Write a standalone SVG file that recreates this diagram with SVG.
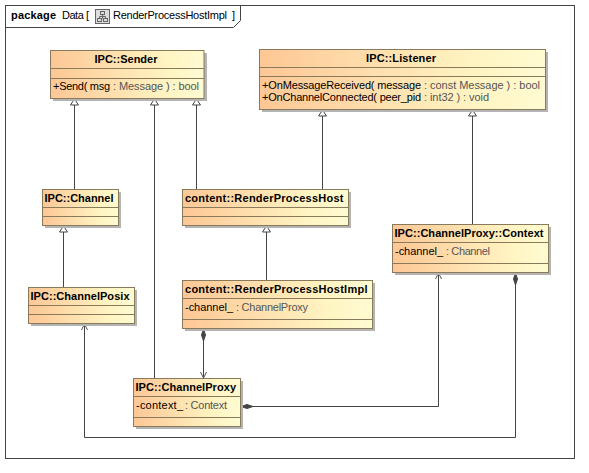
<svg xmlns="http://www.w3.org/2000/svg" width="589" height="473" viewBox="0 0 589 473">
<style>
text{font-family:"Liberation Sans",Arial,sans-serif;font-size:11px;fill:#000}
.t{font-weight:bold}
.g{fill:#555}
.b{fill:url(#f);stroke:#8a7a5c;stroke-width:1}
.s{fill:#b4b4b4}
.l{stroke:#8a7a5c;stroke-width:1;fill:none}
.c{fill:none;stroke:#444;stroke-width:1}
.ih{fill:#fff;stroke:#444;stroke-width:1}
.d{fill:#444;stroke:#444;stroke-width:1}
.o{fill:none;stroke:#555;stroke-width:1}
</style>
<defs>
<linearGradient id="f" x1="0" y1="0" x2="1" y2="0"><stop offset="0" stop-color="#fdc795"/><stop offset="0.75" stop-color="#fff4c2"/><stop offset="1" stop-color="#fffbd2"/></linearGradient>
</defs>
<rect width="589" height="473" fill="#fff"/>
<g id="frame">
<rect x="5.500" y="5.500" width="569" height="453" fill="none" stroke="#444"/>
<path d="M5.500 27.500H233.500L240.500 20.500V5.500" fill="none" stroke="#444"/>
<text x="11" y="18.500" class="t" textLength="45">package</text>
<text x="62" y="18.500" textLength="27">Data [</text>
<g fill="none" stroke="#666"><rect x="95.500" y="9.500" width="14" height="14" fill="#ddd"/><rect x="100.500" y="11.500" width="4" height="3"/><rect x="97.500" y="18.500" width="4" height="3"/><rect x="103.500" y="18.500" width="4" height="3"/><path d="M102.500 14.500V18.500M99.500 18.500V16.500H105.500V18.500"/></g>
<text x="113" y="18.500" textLength="114">RenderProcessHostImpl</text>
<text x="232" y="18.500">]</text>
</g>
<g id="connectors">
<path class="c" d="M74.500 189V105M154.500 378V105M196.500 189V105M322.500 189V116M472.500 224V116M63.500 287V232M266.500 280V232M203.500 341V378M253 406.500H438.500V273M515.500 285V437.500H84.500V324"/>
<path class="ih" d="M74.500 99L70.500 105H78.500ZM154.500 99L150.500 105H158.500ZM196.500 99L192.500 105H200.500ZM322.500 110L318.500 116H326.500ZM472.500 110L468.500 116H476.500ZM63.500 226L59.500 232H67.500ZM266.500 226L262.500 232H270.500Z"/>
<path class="d" d="M203.500 329L201.500 335L203.500 341L205.500 335ZM241 406.500L247 404.500L253 406.500L247 408.500ZM515.500 273L513.500 279L515.500 285L517.500 279Z"/>
<path class="o" d="M200.500 372L203.500 378L206.500 372M435.500 279L438.500 273L441.500 279M81.500 330L84.500 324L87.500 330"/>
</g>
<g id="sender">
<rect class="s" x="53" y="53" width="154" height="48"/><rect class="b" x="50.500" y="50.500" width="153.500" height="48"/>
<path class="l" d="M50.500 68.500H204M50.500 78.500H204"/>
<text x="94.500" y="63" class="t" textLength="63">IPC::Sender</text>
<text x="53" y="90" textLength="57">+Send( msg</text>
<text x="113" y="90" class="g" textLength="86">: Message ) : bool</text>
</g>
<g id="listener">
<rect class="s" x="262" y="52" width="286" height="60"/><rect class="b" x="259.500" y="49.500" width="286" height="60"/>
<path class="l" d="M259.500 67.500H545.500M259.500 76.500H545.500"/>
<text x="366" y="62" class="t" textLength="70">IPC::Listener</text>
<text x="262" y="89" textLength="159">+OnMessageReceived( message</text>
<text x="424" y="89" class="g" textLength="116">: const Message ) : bool</text>
<text x="262" y="101" textLength="159">+OnChannelConnected( peer_pid</text>
<text x="424" y="101" class="g" textLength="65">: int32 ) : void</text>
</g>
<g id="channel">
<rect class="s" x="45" y="192" width="76" height="36"/><rect class="b" x="42.500" y="189.500" width="76" height="36"/>
<path class="l" d="M42.500 207.500H118.500M42.500 216.500H118.500"/>
<text x="44.500" y="202" class="t" textLength="69">IPC::Channel</text>
</g>
<g id="renderProcessHost">
<rect class="s" x="185" y="192" width="166" height="36"/><rect class="b" x="182.500" y="189.500" width="166" height="36"/>
<path class="l" d="M182.500 207.500H348.500M182.500 216.500H348.500"/>
<text x="185" y="202" class="t" textLength="158.500">content::RenderProcessHost</text>
</g>
<g id="channelProxyContext">
<rect class="s" x="395" y="227" width="156" height="48"/><rect class="b" x="392.500" y="224.500" width="156" height="48"/>
<path class="l" d="M392.500 242.500H548.500M392.500 263.500H548.500"/>
<text x="394.500" y="237" class="t" textLength="149">IPC::ChannelProxy::Context</text>
<text x="395" y="255" textLength="48">-channel_</text>
<text x="446" y="255" class="g" textLength="44">: Channel</text>
</g>
<g id="channelPosix">
<rect class="s" x="31" y="290" width="106" height="36"/><rect class="b" x="28.500" y="287.500" width="106" height="36"/>
<path class="l" d="M28.500 305.500H134.500M28.500 314.500H134.500"/>
<text x="30.500" y="300" class="t" textLength="99">IPC::ChannelPosix</text>
</g>
<g id="renderProcessHostImpl">
<rect class="s" x="185" y="283" width="190" height="48"/><rect class="b" x="182.500" y="280.500" width="190" height="48"/>
<path class="l" d="M182.500 298.500H372.500M182.500 319.500H372.500"/>
<text x="185" y="293" class="t" textLength="182.500">content::RenderProcessHostImpl</text>
<text x="185" y="311" textLength="48">-channel_</text>
<text x="236" y="311" class="g" textLength="72">: ChannelProxy</text>
</g>
<g id="channelProxy">
<rect class="s" x="136" y="381" width="107" height="48"/><rect class="b" x="133.500" y="378.500" width="107" height="48"/>
<path class="l" d="M133.500 396.500H240.500M133.500 417.500H240.500"/>
<text x="135.500" y="391" class="t" textLength="100.500">IPC::ChannelProxy</text>
<text x="136" y="409" textLength="47">-context_</text>
<text x="185" y="409" class="g" textLength="42">: Context</text>
</g>
</svg>
